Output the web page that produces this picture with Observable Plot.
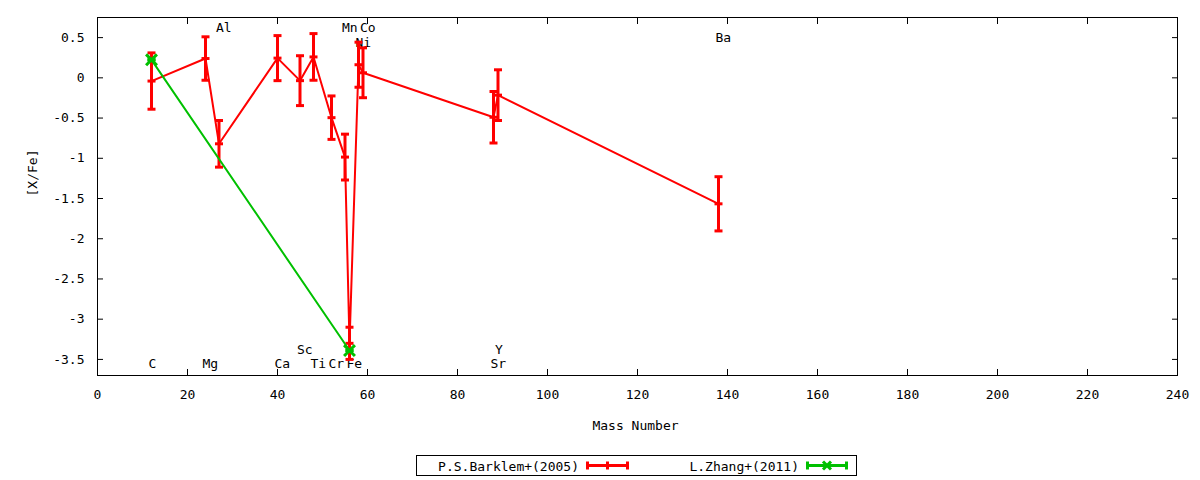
<!DOCTYPE html>
<html>
<head>
<meta charset="utf-8">
<script src="https://cdn.jsdelivr.net/npm/d3@7"></script>
<script src="https://cdn.jsdelivr.net/npm/@observablehq/plot@0.6"></script>
<style>
  html, body { margin: 0; padding: 0; background: white; }
  #wrap { position: relative; width: 1200px; height: 480px; font-family: "DejaVu Sans Mono", monospace; font-size: 13px; }
  #legend { position: absolute; left: 416px; top: 455px; width: 439px; height: 19px; border: 1px solid black; box-sizing: content-box; }
</style>
</head>
<body>
<div id="wrap"><div id="chart"></div><div id="legend"></div></div>
<script>
// ---- data ----
const barklemElements = ["C", "Mg", "Al", "Ca", "Sc", "Ti", "Cr", "Mn", "Fe", "Ni", "Co", "Sr", "Y", "Ba"];
const barklemMass     = [12, 24, 27, 40, 45, 48, 52, 55, 56, 58, 59, 88, 89, 138];
const barklemValue    = [-0.04, 0.24, -0.82, 0.245, -0.035, 0.26, -0.495, -0.985, -3.30, 0.163, 0.063, -0.49, -0.215, -1.566];
const barklemError    = [0.35, 0.27, 0.29, 0.28, 0.31, 0.29, 0.27, 0.285, 0.20, 0.28, 0.31, 0.32, 0.315, 0.337];

const zhangElements = ["C", "Fe"];
const zhangMass     = [12, 56];
const zhangValue    = [0.224, -3.39];
const zhangError    = [0, 0];

const labelText = ["C", "Mg", "Al", "Ca", "Sc", "Ti", "Cr", "Mn", "Fe", "Co", "Ni", "Sr", "Y", "Ba"];
const labelMass = [12, 24, 27, 40, 45, 48, 52, 55, 56, 59, 58, 88, 89, 138];
const labelY    = [-3.55, -3.55, 0.625, -3.55, -3.38, -3.55, -3.55, 0.625, -3.55, 0.625, 0.44, -3.55, -3.38, 0.5];

const xTicks = [0, 20, 40, 60, 80, 100, 120, 140, 160, 180, 200, 220, 240];
const yTicks = [0.5, 0, -0.5, -1, -1.5, -2, -2.5, -3, -3.5];

const seriesNames = ["P.S.Barklem+(2005)", "L.Zhang+(2011)"];
const seriesColors = ["#ff0000", "#00c000"];

// ---- tables ----
const barklem = barklemMass.map((m, i) => ({el: barklemElements[i], x: m, y: barklemValue[i], e: barklemError[i]}));
const zhang = zhangMass.map((m, i) => ({el: zhangElements[i], x: m, y: zhangValue[i], e: zhangError[i]}));
const labels = labelText.map((t, i) => ({t, x: labelMass[i], y: labelY[i]}));

const hline = { draw(ctx, size) { const w = Math.sqrt(size / Math.PI); ctx.moveTo(-w, 0); ctx.lineTo(w, 0); } };

function errMarks(data, color, markSymbol, markR) {
  return [
    Plot.ruleX(data, {x: "x", y1: d => d.y - d.e, y2: d => d.y + d.e, stroke: color, strokeWidth: 3}),
    Plot.dot(data, {x: "x", y: d => d.y - d.e, symbol: hline, r: 4, stroke: color, strokeWidth: 3, fill: "none"}),
    Plot.dot(data, {x: "x", y: d => d.y + d.e, symbol: hline, r: 4, stroke: color, strokeWidth: 3, fill: "none"}),
    Plot.dot(data, {x: "x", y: "y", symbol: markSymbol, r: markR, stroke: color, strokeWidth: 3, fill: "none"})
  ];
}

const chart = Plot.plot({
  width: 1200,
  height: 440,
  marginLeft: 97,
  marginRight: 23,
  marginTop: 17,
  marginBottom: 65,
  style: {fontFamily: "DejaVu Sans Mono", fontSize: "13px", background: "white", color: "black"},
  x: {domain: [0, 240]},
  y: {domain: [-3.7, 0.75]},
  marks: [
    Plot.axisX({ticks: xTicks, anchor: "bottom", tickSize: 0, tickPadding: 14, tickFormat: d => String(d), label: null}),
    Plot.axisX({ticks: xTicks, anchor: "bottom", tickSize: -6, tickFormat: () => "", label: null}),
    Plot.axisX({ticks: xTicks, anchor: "top", tickSize: -6, tickFormat: () => "", label: null}),
    Plot.axisY({ticks: yTicks, anchor: "left", tickSize: 0, tickPadding: 13, tickFormat: d => String(d), label: null}),
    Plot.axisY({ticks: yTicks, anchor: "left", tickSize: -6, tickFormat: () => "", label: null}),
    Plot.axisY({ticks: yTicks, anchor: "right", tickSize: -6, tickFormat: () => "", label: null}),
    Plot.frame({stroke: "black", strokeWidth: 1}),
    Plot.text(["[X/Fe]"], {frameAnchor: "left", dx: -65, rotate: -90, fill: "black"}),
    Plot.text(["Mass Number"], {frameAnchor: "bottom", dy: 54, dx: -2, fill: "black"}),
    Plot.text(labels, {x: "x", y: "y", text: "t", textAnchor: "start", dx: -3, fill: "black"}),
    Plot.line(barklem, {x: "x", y: "y", stroke: seriesColors[0], strokeWidth: 2}),
    ...errMarks(barklem, seriesColors[0], hline, 4),
    Plot.line(zhang, {x: "x", y: "y", stroke: seriesColors[1], strokeWidth: 2}),
    ...errMarks(zhang, seriesColors[1], "times", 5)
  ]
});
document.getElementById("chart").appendChild(chart);

// ---- legend ----
const ns = "http://www.w3.org/2000/svg";
const lg = document.createElementNS(ns, "svg");
lg.setAttribute("width", 439);
lg.setAttribute("height", 19);
lg.style.display = "block";
const entries = [{textEnd: 162, x0: 169, x1: 212}, {textEnd: 382, x0: 389, x1: 431}];
entries.forEach((p, i) => {
  const c = seriesColors[i];
  const t = document.createElementNS(ns, "text");
  t.setAttribute("x", p.textEnd);
  t.setAttribute("y", 10);
  t.setAttribute("text-anchor", "end");
  t.setAttribute("dominant-baseline", "central");
  t.setAttribute("font-family", "DejaVu Sans Mono");
  t.setAttribute("font-size", "13");
  t.textContent = seriesNames[i];
  lg.appendChild(t);
  const mk = (x1, y1, x2, y2) => {
    const l = document.createElementNS(ns, "line");
    l.setAttribute("x1", x1); l.setAttribute("y1", y1); l.setAttribute("x2", x2); l.setAttribute("y2", y2);
    l.setAttribute("stroke", c); l.setAttribute("stroke-width", 3);
    lg.appendChild(l);
  };
  const mid = (p.x0 + p.x1) / 2;
  mk(p.x0, 9.5, p.x1, 9.5);
  mk(p.x0 + 1.5, 5.5, p.x0 + 1.5, 13.5);
  mk(p.x1 - 1.5, 5.5, p.x1 - 1.5, 13.5);
  if (i === 0) {
    mk(mid, 5.5, mid, 13.5);
  } else {
    mk(mid - 4, 5.5, mid + 4, 13.5);
    mk(mid - 4, 13.5, mid + 4, 5.5);
  }
});
document.getElementById("legend").appendChild(lg);
</script>
</body>
</html>
